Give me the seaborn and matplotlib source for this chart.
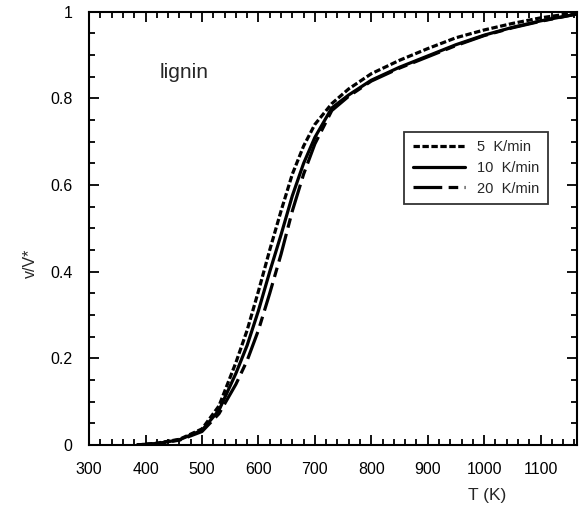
import numpy as np
import pandas as pd
import matplotlib
matplotlib.use("Agg")
import matplotlib.pyplot as plt
import seaborn as sns
from matplotlib.ticker import MultipleLocator, FuncFormatter

# Data
T_5 = [385, 420, 460, 500, 530, 560, 580, 600, 620, 640, 660, 680, 700, 730, 760, 800, 850, 900, 950, 1000, 1050, 1100, 1165]
y_5 = [0.0, 0.004, 0.013, 0.037, 0.09, 0.19, 0.265, 0.355, 0.45, 0.54, 0.625, 0.69, 0.74, 0.788, 0.822, 0.857, 0.888, 0.915, 0.94, 0.958, 0.973, 0.986, 0.998]
T_10 = [385, 420, 460, 500, 530, 560, 580, 600, 620, 640, 660, 680, 700, 730, 760, 800, 850, 900, 950, 1000, 1050, 1100, 1165]
y_10 = [0.0, 0.003, 0.012, 0.034, 0.08, 0.165, 0.23, 0.31, 0.4, 0.485, 0.575, 0.65, 0.71, 0.778, 0.808, 0.842, 0.872, 0.898, 0.924, 0.946, 0.964, 0.979, 0.995]
T_20 = [385, 420, 460, 500, 530, 560, 580, 600, 620, 640, 660, 680, 700, 730, 760, 800, 850, 900, 950, 1000, 1050, 1100, 1165]
y_20 = [0.0, 0.003, 0.011, 0.031, 0.072, 0.14, 0.195, 0.265, 0.35, 0.44, 0.54, 0.625, 0.695, 0.772, 0.805, 0.84, 0.87, 0.896, 0.922, 0.945, 0.963, 0.978, 0.995]
labels = ["5  K/min", "10  K/min", "20  K/min"]

x_ticks = [300, 400, 500, 600, 700, 800, 900, 1000, 1100]
y_ticks = [0, 0.2, 0.4, 0.6, 0.8, 1.0]

df = pd.concat([
    pd.DataFrame({"T": T_5, "v": y_5, "rate": labels[0]}),
    pd.DataFrame({"T": T_10, "v": y_10, "rate": labels[1]}),
    pd.DataFrame({"T": T_20, "v": y_20, "rate": labels[2]}),
], ignore_index=True)

sns.set_theme(style="ticks")
plt.rcParams['font.family'] = ['Liberation Sans', 'DejaVu Sans']

fig = plt.figure(figsize=(5.79, 5.12), dpi=100)
ax = fig.add_axes([0.154, 0.131, 0.843, 0.846])

dashes = {labels[0]: (2.0, 0.8), labels[1]: "", labels[2]: (9, 2, 3, 2)}
sns.lineplot(data=df, x="T", y="v", hue="rate", style="rate",
             palette=["black"] * 3, dashes=dashes, linewidth=2.3,
             sort=False, estimator=None, ax=ax)

ax.set_xlim(300, 1165)
ax.set_ylim(0, 1)
ax.set_xticks(x_ticks)
ax.set_yticks(y_ticks)
ax.xaxis.set_minor_locator(MultipleLocator(20))
ax.yaxis.set_minor_locator(MultipleLocator(0.05))
ax.yaxis.set_major_formatter(FuncFormatter(lambda v, p: "0" if v == 0 else ("1" if v == 1 else f"{v:.1f}")))
ax.tick_params(which="both", direction="in", top=True, right=True, width=1.3, colors="black", labelsize=11.5)
ax.tick_params(axis="x", which="major", length=7, pad=12)
ax.tick_params(axis="y", which="major", length=7, pad=12)
ax.tick_params(which="minor", length=4)
for s in ax.spines.values():
    s.set_linewidth(1.5)
    s.set_color("black")

ax.set_xlabel("T (K)", fontsize=12.5)
ax.xaxis.set_label_coords(0.815, -0.1)
ax.set_ylabel("v/V*", fontsize=11.5)
ax.yaxis.set_label_coords(-0.105, 0.42)

ax.text(0.145, 0.86, "lignin", transform=ax.transAxes, fontsize=15, ha="left", va="center")

leg = ax.legend(title=None, loc="upper left", bbox_to_anchor=(0.63, 0.74),
                frameon=True, fancybox=False, edgecolor="black", fontsize=10.5,
                handlelength=3.6, borderpad=0.6, labelspacing=0.45)
leg.get_frame().set_linewidth(1.3)

fig.savefig("out.png", dpi=100)
